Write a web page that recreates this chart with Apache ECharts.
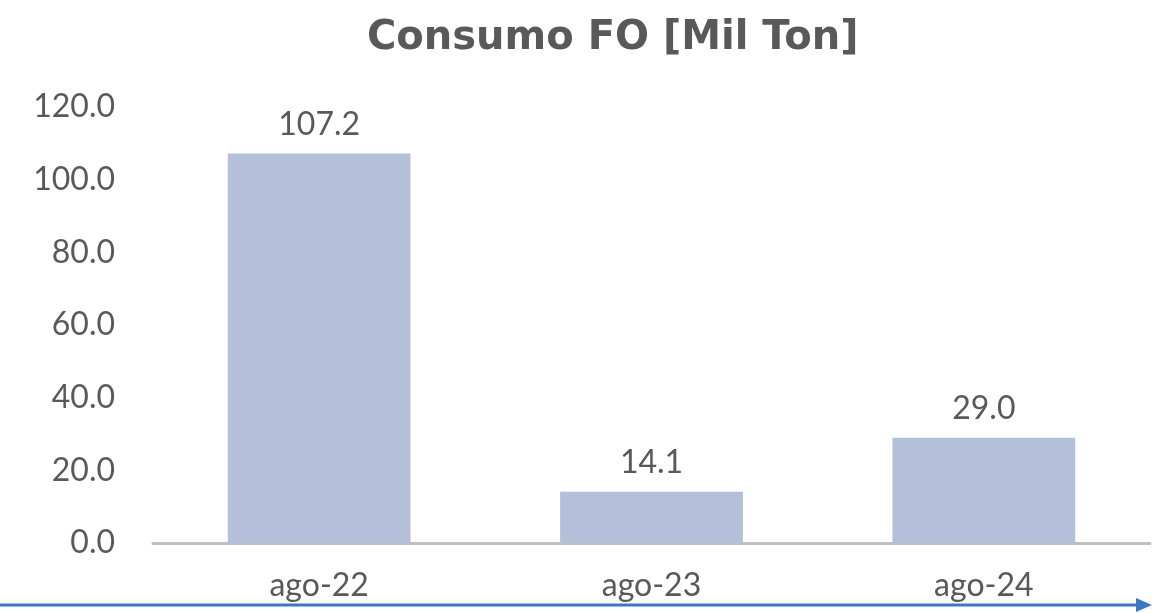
<!DOCTYPE html>
<html>
<head>
<meta charset="utf-8">
<script src="https://cdn.jsdelivr.net/npm/echarts@6/dist/echarts.min.js"></script>
<style>
  html, body { margin: 0; padding: 0; background: #fff; }
  #main { width: 1166px; height: 613px; }
</style>
</head>
<body>
<div id="main"></div>
<script>
var categories = ['ago-22', 'ago-23', 'ago-24'];
var consumo = [107.2, 14.1, 29.0];
var yTicks = { min: 0, max: 120, interval: 20 };

var TEXT = '#595959';
var FONT = 'Lato, "Open Sans", sans-serif';
var TITLE_FONT = '"DejaVu Sans", sans-serif';

var chart = echarts.init(document.getElementById('main'));

var option = {
  animation: false,
  title: {
    text: 'Consumo FO [Mil Ton]',
    left: 362,
    top: 14,
    textStyle: { color: TEXT, fontFamily: TITLE_FONT, fontWeight: 'bold', fontSize: 40 }
  },
  grid: { left: 153, right: 16, top: 107, bottom: 70 },
  xAxis: {
    type: 'category',
    data: categories,
    axisLine: { lineStyle: { color: '#c0c0c0', width: 3 } },
    axisTick: { show: false },
    axisLabel: { color: TEXT, fontFamily: FONT, fontSize: 32, margin: 27 }
  },
  yAxis: {
    type: 'value',
    min: yTicks.min,
    max: yTicks.max,
    interval: yTicks.interval,
    splitLine: { show: false },
    axisLine: { show: false },
    axisTick: { show: false },
    axisLabel: {
      color: TEXT, fontFamily: FONT, fontSize: 32, margin: 38,
      formatter: function (v) { return v.toFixed(1); }
    }
  },
  series: [{
    type: 'bar',
    data: consumo,
    barCategoryGap: '45%',
    itemStyle: { color: '#b4c0d9' },
    label: {
      show: true,
      position: 'top',
      distance: 13,
      color: TEXT,
      fontFamily: FONT,
      fontSize: 32,
      formatter: function (p) { return p.value.toFixed(1); }
    }
  }],
  graphic: [
    {
      type: 'line',
      shape: { x1: 0, y1: 605, x2: 1140, y2: 605 },
      style: { stroke: '#3a78c0', lineWidth: 3 }
    },
    {
      type: 'polygon',
      shape: { points: [[1136, 598], [1152, 605], [1136, 612]] },
      style: { fill: '#3a78c0' }
    }
  ]
};

chart.setOption(option);
</script>
</body>
</html>
